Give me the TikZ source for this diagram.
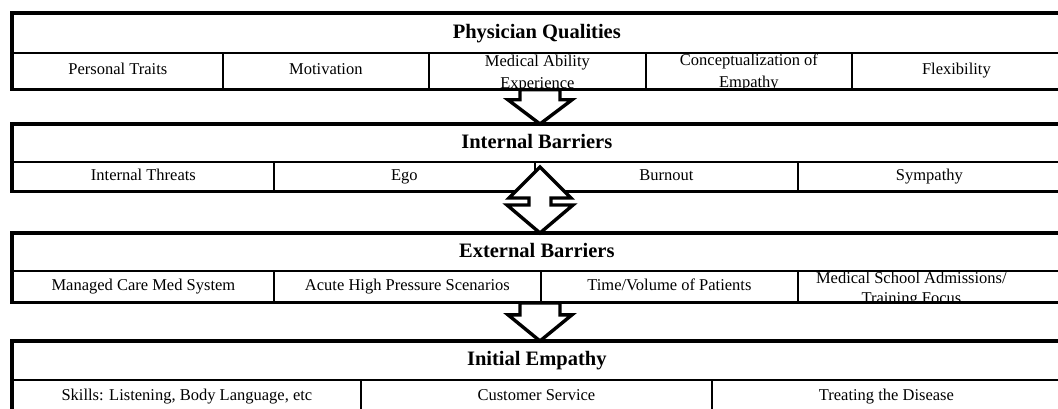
\documentclass[tikz,border=0pt]{standalone}
\usepackage{fontspec}
\setmainfont{Liberation Serif}
\usetikzlibrary{calc}
\begin{document}
\begin{tikzpicture}[x=1pt,y=-1pt,
  cell/.style={draw=black,line width=1.8pt,inner sep=0pt,anchor=north west,
    text height=11.5pt,text depth=3.5pt,
    font=\fontsize{16.5}{19}\selectfont},
  ttl/.style={draw=black,line width=1.6pt,inner sep=0pt,anchor=north west,
    text height=14pt,text depth=4.5pt,
    minimum width=1048pt,font=\bfseries\fontsize{20.5}{22}\selectfont},
  two/.style={inner sep=0pt,align=center,font=\fontsize{16.5}{22}\selectfont},
  blk/.style={draw=black,line width=3.2pt},
  barrow/.style={draw=black,fill=white,line width=3.4pt,line join=miter}]
\useasboundingbox (0,0) rectangle (1058,409);
\clip (0,0) rectangle (1058,409);
\coordinate (xA) at (540,0);

% ---- Block 1: Physician Qualities
\node[ttl,minimum height=39pt] (t1) at (12,13) {Physician Qualities};
\node[cell,minimum width=210pt,minimum height=36pt] (p1) at (12,52) {Personal Traits};
\node[cell,minimum width=206pt,minimum height=36pt] (p2) at (222,52) {Motivation};
\node[cell,minimum width=217pt,minimum height=36pt] (p3) at (428,52) {};
\node[cell,minimum width=206pt,minimum height=36pt] (p4) at (645,52) {};
\node[cell,minimum width=209pt,minimum height=36pt] (p5) at (851,52) {Flexibility};
\begin{scope}
  \clip (p3.north west) rectangle (p3.south east);
  \node[two] (p3t) at ($(p3.center)+(0,3)$) {Medical Ability\\Experience};
\end{scope}
\begin{scope}
  \clip (p4.north west) rectangle (p4.south east);
  \node[two] (p4t) at ($(p4.center)+(0,2)$) {Conceptualization of\\Empathy};
\end{scope}
\draw[blk] (t1.north west) rectangle (p5.south east);

% ---- Block 2: Internal Barriers
\node[ttl,minimum height=37pt] (t2) at (12,124) {Internal Barriers};
\node[cell,minimum width=261pt,minimum height=29pt] (i1) at (12,161) {Internal Threats};
\node[cell,minimum width=261pt,minimum height=29pt] (i2) at (273,161) {Ego};
\node[cell,minimum width=263pt,minimum height=29pt] (i3) at (534,161) {Burnout};
\node[cell,minimum width=263pt,minimum height=29pt] (i4) at (797,161) {Sympathy};
\draw[blk] (t2.north west) rectangle (i4.south east);

% ---- Block 3: External Barriers
\node[ttl,minimum height=37pt] (t3) at (12,233) {External Barriers};
\node[cell,minimum width=261pt,minimum height=31pt] (e1) at (12,270) {Managed Care Med System};
\node[cell,minimum width=267pt,minimum height=31pt] (e2) at (273,270) {Acute High Pressure Scenarios};
\node[cell,minimum width=257pt,minimum height=31pt] (e3) at (540,270) {Time/Volume of Patients};
\node[cell,minimum width=263pt,minimum height=31pt] (e4) at (797,270) {};
\begin{scope}
  \clip (e4.north west) rectangle (e4.south east);
  \node[two,font=\fontsize{16.5}{20}\selectfont] (e4t) at ($(e4.center)+(-18,3)$) {Medical School Admissions/\\Training Focus};
\end{scope}
\draw[blk] (t3.north west) rectangle (e4.south east);

% ---- Block 4: Initial Empathy
\node[ttl,minimum height=38pt] (t4) at (12,341) {Initial Empathy};
\node[cell,minimum width=348pt,minimum height=33pt] (m1) at (12,379) {Skills: Listening, Body Language, etc};
\node[cell,minimum width=351pt,minimum height=33pt] (m2) at (360,379) {Customer Service};
\node[cell,minimum width=349pt,minimum height=33pt] (m3) at (711,379) {Treating the Disease};
\draw[blk] (t4.north west) rectangle (m3.south east);

% ---- Block arrows
\coordinate (a1s) at (xA |- p3.south);
\coordinate (a1e) at (xA |- t2.north);
\draw[barrow] ($(a1s)+(-20,0)$) -- ($(a1s)+(20,0)$) -- ($(a1s)+(20,10)$) -- ($(a1s)+(32,10)$)
  -- (a1e) -- ($(a1s)+(-32,10)$) -- ($(a1s)+(-20,10)$) -- cycle;

\coordinate (a2s) at ($(xA |- i3.north)+(0,6)$);
\coordinate (a2e) at (xA |- t3.north);
\draw[barrow] (a2s) -- ($(a2s)+(31,31)$) -- ($(a2s)+(11,31)$) -- ($(a2s)+(11,38)$) -- ($(a2s)+(33,38)$)
  -- (a2e) -- ($(a2s)+(-33,38)$) -- ($(a2s)+(-11,38)$) -- ($(a2s)+(-11,31)$) -- ($(a2s)+(-31,31)$) -- cycle;

\coordinate (a3s) at (xA |- e3.south);
\coordinate (a3e) at (xA |- t4.north);
\draw[barrow] ($(a3s)+(-20,0)$) -- ($(a3s)+(20,0)$) -- ($(a3s)+(20,12)$) -- ($(a3s)+(32,12)$)
  -- (a3e) -- ($(a3s)+(-32,12)$) -- ($(a3s)+(-20,12)$) -- cycle;
\end{tikzpicture}
\end{document}
